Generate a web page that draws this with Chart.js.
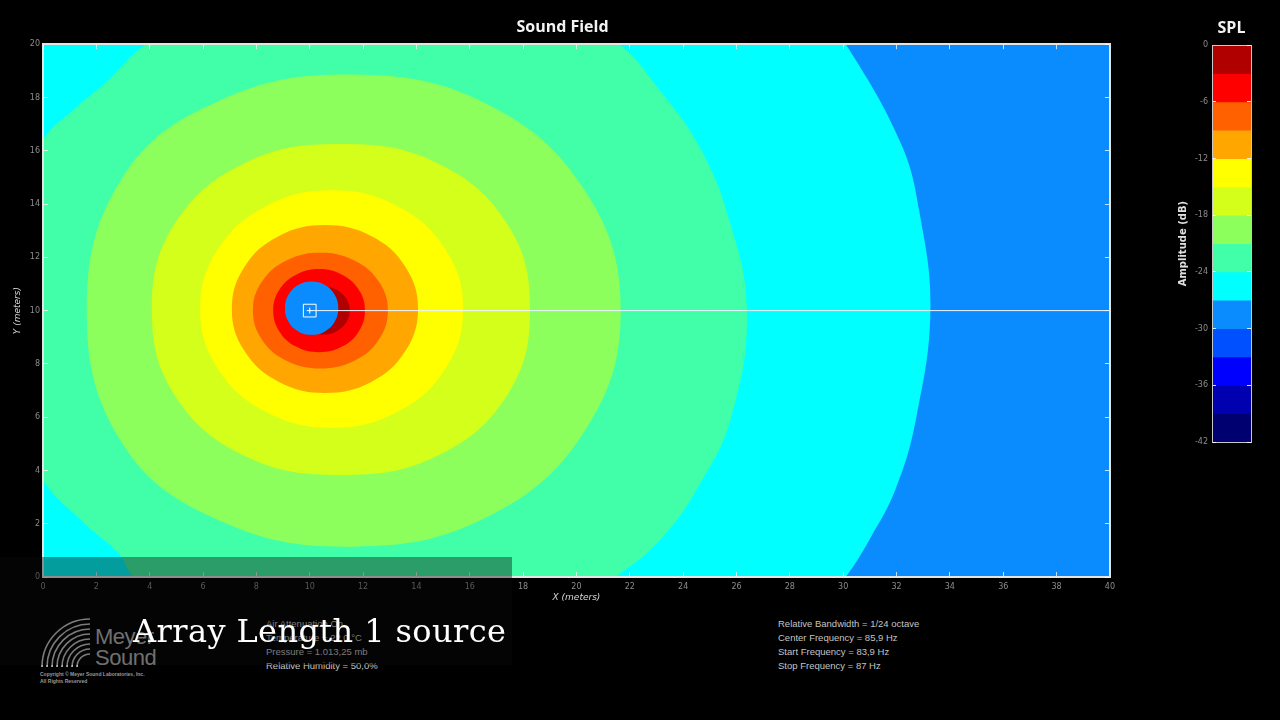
<!DOCTYPE html>
<html lang="en">
<head>
  <meta charset="UTF-8">
  <title>Sound Field - Array Length 1 source</title>
  <script src="https://cdn.jsdelivr.net/npm/chart.js"></script>
  <style>
    html, body { margin: 0; padding: 0; background: #000; overflow: hidden; }
    body { width: 1280px; height: 720px; position: relative; font-family: 'Liberation Sans', Arial, sans-serif; }
    #field { position: absolute; left: 0; top: 0; }
    #scale { position: absolute; left: 1175px; top: 0; }
    .info { position: absolute; color: #c4c4c4; font-size: 9.5px; line-height: 14px; white-space: nowrap; }
    #shade { position: absolute; left: 0; top: 557px; width: 512px; height: 108px; background: rgba(10, 10, 10, 0.4); }
    #caption { position: absolute; left: 133px; top: 613px; color: #fff; font-family: 'DejaVu Serif', serif; font-size: 32px; line-height: 36px; letter-spacing: 0.4px; white-space: nowrap; }
    #brand { position: absolute; left: 95px; top: 626px; color: #b4b4b4; font-size: 22px; line-height: 21px; letter-spacing: -0.5px; }
    #copy { position: absolute; left: 40px; top: 671px; color: #9a9a9a; font-size: 5px; line-height: 7px; font-weight: bold; white-space: nowrap; }
    #logo { position: absolute; left: 40px; top: 617px; }
  </style>
</head>
<body>

  <canvas id="field" width="1125" height="606"></canvas>
  <canvas id="scale" width="113" height="460"></canvas>

  <!-- Meyer Sound mark -->
  <svg id="logo" width="56" height="52" viewBox="0 0 56 52">
    <g fill="none" stroke="#c8c8c8" stroke-width="1.6">
      <path d="M2 50 A48 48 0 0 1 50 2"/>
      <path d="M7 50 A43 43 0 0 1 50 7"/>
      <path d="M12 50 A38 38 0 0 1 50 12"/>
      <path d="M17 50 A33 33 0 0 1 50 17"/>
      <path d="M22 50 A28 28 0 0 1 50 22"/>
      <path d="M27 50 A23 23 0 0 1 50 27"/>
      <path d="M32 50 A18 18 0 0 1 50 32"/>
      <path d="M37 50 A13 13 0 0 1 50 37"/>
    </g>
  </svg>
  <div id="brand">Meyer<br>Sound</div>
  <div id="copy">Copyright © Meyer Sound Laboratories, Inc.<br>All Rights Reserved</div>

  <div class="info" style="left:778px; top:617px;">
    Relative Bandwidth = 1/24 octave<br>
    Center Frequency = 85,9 Hz<br>
    Start Frequency = 83,9 Hz<br>
    Stop Frequency = 87 Hz
  </div>
  <div class="info" style="left:266px; top:617px;">
    Air Attenuation On<br>
    Temperature = 22,0 °C<br>
    Pressure = 1.013,25 mb<br>
    Relative Humidity = 50,0%
  </div>

  <div id="shade"></div>
  <div id="caption">Array Length 1 source</div>

  <script>
    // plot extents (metres) and tick spacing
    const xRange = [0, 40];
    const yRange = [0, 20];
    const tickStep = 2;

    // SPL colour scale, band edges in dB from top to bottom
    const bandEdges = [0, -3, -6, -9, -12, -15, -18, -21, -24, -27, -30, -33, -36, -39, -42];
    const bandColors = ["#b00000", "#ff0000", "#ff6000", "#ffa600", "#ffff00", "#d4ff1a", "#8cff5c",
                        "#40ffa8", "#00ffff", "#0a8cff", "#0050ff", "#0000ff", "#0000b0", "#000070"];
    const scaleStep = 6;

    // source position
    const sourceX = 10;
    const sourceY = 10;

    // contour lines, [x, y] in metres
    const contour3 = [[11.5, 10.0], [11.37, 10.45], [11.0, 10.78], [10.5, 10.9], [10.0, 10.78], [9.63, 10.45],
                      [9.5, 10.0], [9.63, 9.55], [10.0, 9.22], [10.5, 9.1], [11.0, 9.22], [11.37, 9.55]];
    const contour6 = [[12.07, 10.0], [11.84, 10.78], [11.21, 11.35], [10.35, 11.56], [9.49, 11.35], [8.86, 10.78],
                      [8.63, 10.0], [8.86, 9.22], [9.49, 8.65], [10.35, 8.44], [11.21, 8.65], [11.84, 9.22]];
    const contour9 = [[12.93, 10.0], [12.59, 11.09], [11.67, 11.88], [10.4, 12.17], [9.13, 11.88], [8.21, 11.09],
                      [7.87, 10.0], [8.21, 8.91], [9.13, 8.12], [10.4, 7.83], [11.67, 8.12], [12.59, 8.91]];
    const contour12 = [[14.06, 10.06], [13.59, 11.64], [12.32, 12.79], [10.57, 13.21], [8.83, 12.79], [7.55, 11.64],
                       [7.08, 10.06], [7.55, 8.49], [8.83, 7.33], [10.57, 6.91], [12.32, 7.33], [13.59, 8.49]];
    const contour15 = [[15.75, 10.06], [15.09, 12.29], [13.29, 13.92], [10.82, 14.52], [8.36, 13.92], [6.55, 12.29],
                       [5.89, 10.06], [6.55, 7.83], [8.36, 6.2], [10.82, 5.6], [13.29, 6.2], [15.09, 7.83]];
    const contour18 = [[18.26, 10.04], [17.43, 13.21], [14.79, 15.53], [11.17, 16.25], [7.55, 15.53], [4.91, 13.21],
                       [4.08, 10.04], [4.91, 6.87], [7.55, 4.55], [11.17, 3.83], [14.79, 4.55], [17.43, 6.87]];
    const contour21 = [[21.66, 10.0], [20.32, 14.5], [16.65, 17.75], [11.65, 18.86], [6.65, 17.9], [2.98, 15.0],
                       [1.64, 10.0], [2.98, 5.0], [6.65, 2.1], [11.65, 1.14], [16.65, 2.25], [20.32, 5.5]];
    const contour24 = [[26.39, 10.0], [25.78, 5.93], [24.54, 3.34], [23.17, 1.43], [21.44, 0.0], [19.0, -1.4],
                       [14.0, -2.2], [8.0, -1.8], [3.45, 0.0], [2.89, 0.83], [1.5, 2.06], [0.0, 3.64],
                       [-1.0, 6.0], [-1.6, 10.0], [-1.0, 14.0], [0.0, 16.4], [1.1, 17.5], [2.4, 18.6],
                       [3.9, 20.0], [8.0, 21.8], [14.0, 22.2], [19.0, 21.4], [21.6, 20.0], [23.17, 18.21],
                       [24.54, 16.28], [25.64, 13.69]];
    const contour27 = [[28.6, 22.0], [30.1, 20.0], [32.16, 16.28], [32.86, 13.69], [33.27, 10.0], [32.73, 5.93],
                       [31.98, 3.34], [31.0, 1.43], [30.1, 0.0], [28.6, -2.0], [-3.0, -3.0], [-3.0, 23.0]];
    // the low-level spot right at the source
    const coreSpot = [[11.07, 10.09], [10.94, 10.59], [10.57, 10.96], [10.07, 11.09], [9.57, 10.96], [9.2, 10.59],
                      [9.07, 10.09], [9.2, 9.59], [9.57, 9.22], [10.07, 9.09], [10.57, 9.22], [10.94, 9.59]];
    const coreLevel = -30;

    const contourLevels = [-3, -6, -9, -12, -15, -18, -21, -24, -27];
    const contours = [contour3, contour6, contour9, contour12, contour15, contour18, contour21, contour24, contour27];

    // colour of the band just above a level
    function bandColor(level) {
      return bandColors[bandEdges.indexOf(level) - 1];
    }

    // wrap the outline so the curve stays smooth where it closes
    function closedPoints(arr) {
      const n = arr.length;
      return [arr[n - 1]].concat(arr, [arr[0], arr[1]]).map(p => ({ x: p[0], y: p[1] }));
    }

    function shapeDataset(arr, color) {
      return {
        data: closedPoints(arr),
        showLine: true,
        fill: "shape",
        backgroundColor: color,
        borderWidth: 0,
        pointRadius: 0,
        tension: 0.4,
        capBezierPoints: false
      };
    }

    const fieldDatasets = [
      {
        // white reference line from the source to the right edge
        data: [{ x: sourceX, y: sourceY }, { x: xRange[1], y: sourceY }],
        showLine: true,
        borderColor: "#eef4ff",
        borderWidth: 1,
        pointRadius: 0,
        fill: false
      },
      {
        data: [{ x: sourceX, y: sourceY }],
        pointStyle: "rect",
        pointRadius: 9,
        borderColor: "#ffffff",
        borderWidth: 1,
        backgroundColor: "rgba(0,0,0,0)"
      },
      {
        data: [{ x: sourceX, y: sourceY }],
        pointStyle: "cross",
        pointRadius: 3,
        borderColor: "#ffffff",
        borderWidth: 1
      },
      shapeDataset(coreSpot, bandColor(coreLevel))
    ];
    contours.forEach((c, i) => fieldDatasets.push(shapeDataset(c, bandColor(contourLevels[i]))));

    const dotted = { color: "#e4e4e4", width: 2, dash: [2, 2], z: 1 };
    const tickFont = { family: "'DejaVu Sans', sans-serif", size: 8 };
    // short marks pointing into the plot
    const innerTicks = { display: true, drawOnChartArea: false, drawTicks: true, tickLength: -5,
                         color: "rgba(255,255,255,0.75)", lineWidth: 1, z: 1 };

    // fills the plot area with the lowest band shown
    const areaBackground = {
      id: "areaBackground",
      beforeDraw(chart, args, opts) {
        const a = chart.chartArea;
        chart.ctx.save();
        chart.ctx.fillStyle = opts.color;
        chart.ctx.fillRect(a.left, a.top, a.right - a.left, a.bottom - a.top);
        chart.ctx.restore();
      }
    };

    new Chart(document.getElementById("field"), {
      type: "scatter",
      data: { datasets: fieldDatasets },
      plugins: [areaBackground],
      options: {
        responsive: false,
        animation: false,
        events: [],
        layout: { padding: 0 },
        plugins: {
          legend: { display: false },
          tooltip: { enabled: false },
          areaBackground: { color: bandColor(-30) },
          title: {
            display: true,
            text: "Sound Field",
            color: "#f2f2f2",
            font: { family: "'Open Sans', sans-serif", size: 16, weight: "bold" },
            padding: { top: 18, bottom: 7 }
          }
        },
        scales: {
          x: {
            type: "linear", min: xRange[0], max: xRange[1],
            ticks: { stepSize: tickStep, color: "#8c8c8c", font: tickFont, maxRotation: 0, padding: 10 },
            grid: innerTicks,
            border: dotted,
            title: { display: true, text: "X (meters)", color: "#d8d8d8",
                     font: { family: "'DejaVu Sans', sans-serif", size: 9, style: "italic" }, padding: { top: 0, bottom: 3 } },
            afterFit: s => { s.height = 29; }
          },
          y: {
            type: "linear", min: yRange[0], max: yRange[1],
            ticks: { stepSize: tickStep, color: "#8c8c8c", font: tickFont, padding: 8 },
            grid: innerTicks,
            border: dotted,
            title: { display: true, text: "Y (meters)", color: "#d8d8d8",
                     font: { family: "'DejaVu Sans', sans-serif", size: 9, style: "italic" }, padding: { top: 12, bottom: 0 } },
            afterFit: s => { s.width = 43; }
          },
          x2: {
            type: "linear", position: "top", min: xRange[0], max: xRange[1],
            ticks: { display: false, stepSize: tickStep }, grid: innerTicks, border: dotted,
            afterFit: s => { s.height = 0; }
          },
          y2: {
            type: "linear", position: "right", min: yRange[0], max: yRange[1],
            ticks: { display: false, stepSize: tickStep }, grid: innerTicks, border: dotted,
            afterFit: s => { s.width = 15; }
          }
        }
      }
    });

    // colour bar
    const scaleDatasets = bandColors.map((c, i) => ({
      data: [[bandEdges[i + 1], bandEdges[i]]],
      backgroundColor: c,
      borderWidth: 0,
      barPercentage: 1,
      categoryPercentage: 1,
      grouped: false
    }));
    const frame = { color: "#c8c8c8", width: 1, z: 1 };
    const barTicks = { display: true, drawOnChartArea: false, drawTicks: true, tickLength: -4,
                       color: "rgba(255,255,255,0.85)", lineWidth: 1, z: 1 };

    new Chart(document.getElementById("scale"), {
      type: "bar",
      data: { labels: ["SPL"], datasets: scaleDatasets },
      options: {
        responsive: false,
        animation: false,
        events: [],
        plugins: {
          legend: { display: false },
          tooltip: { enabled: false },
          title: {
            display: true,
            text: "SPL",
            color: "#f2f2f2",
            font: { family: "'Open Sans', sans-serif", size: 16, weight: "bold" },
            padding: { top: 19, bottom: 7 }
          }
        },
        scales: {
          x: {
            ticks: { display: false }, grid: { display: false }, border: frame,
            afterFit: s => { s.height = 18; }
          },
          y: {
            min: bandEdges[bandEdges.length - 1], max: bandEdges[0],
            ticks: { stepSize: scaleStep, color: "#8c8c8c", font: tickFont, padding: 8 },
            grid: barTicks,
            border: frame,
            title: { display: true, text: "Amplitude (dB)", color: "#e0e0e0",
                     font: { family: "'DejaVu Sans', sans-serif", size: 10, weight: "bold" }, padding: { top: 2, bottom: 0 } },
            afterFit: s => { s.width = 37; }
          },
          x2: {
            type: "linear", position: "top", min: 0, max: 1,
            ticks: { display: false }, grid: { display: false }, border: frame,
            afterFit: s => { s.height = 0; }
          },
          y2: {
            type: "linear", position: "right", min: bandEdges[bandEdges.length - 1], max: bandEdges[0],
            ticks: { display: false, stepSize: scaleStep }, grid: barTicks, border: frame,
            afterFit: s => { s.width = 37; }
          }
        }
      }
    });
  </script>
</body>
</html>
